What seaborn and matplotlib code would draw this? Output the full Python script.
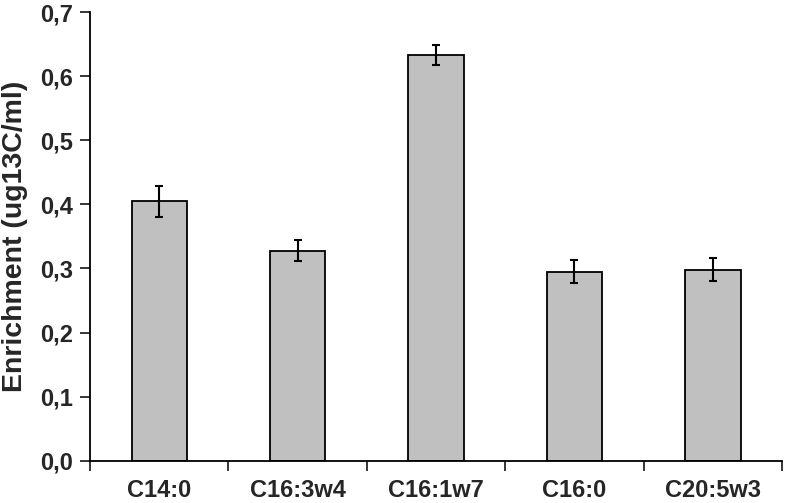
import matplotlib
matplotlib.use("Agg")
import matplotlib.pyplot as plt
import seaborn as sns
import pandas as pd
import numpy as np
from matplotlib.ticker import FuncFormatter, FixedLocator

categories = ["C14:0", "C16:3w4", "C16:1w7", "C16:0", "C20:5w3"]
values = [0.405, 0.328, 0.633, 0.295, 0.298]
errors = [0.024, 0.016, 0.015, 0.018, 0.018]
y_ticks = [0.0, 0.1, 0.2, 0.3, 0.4, 0.5, 0.6, 0.7]

sns.set_theme(style="white")
plt.rcParams['font.family'] = ['Liberation Sans', 'DejaVu Sans']
plt.rcParams['font.weight'] = 'bold'

df = pd.DataFrame({"cat": categories, "val": values})

fig = plt.figure(figsize=(7.86, 5.03), dpi=100)
ax = fig.add_axes([0.1145, 0.084, 0.995 - 0.1145, 0.976 - 0.084])

sns.barplot(data=df, x="cat", y="val", color="#C0C0C0", edgecolor="black",
            linewidth=1.3, width=0.4, saturation=1, ax=ax, errorbar=None)
ax.errorbar(np.arange(len(categories)), values, yerr=errors, fmt="none",
            ecolor="black", elinewidth=1.5, capsize=3, capthick=1.5)

ax.set_xlim(-0.5, len(categories) - 0.5)
ax.set_ylim(0, 0.7)
ax.set_yticks(y_ticks)
ax.yaxis.set_major_formatter(FuncFormatter(lambda v, p: f"{v:.1f}".replace(".", ",")))

# x tick marks at category boundaries, labels at centers
ax.xaxis.set_major_locator(FixedLocator(np.arange(-0.5, len(categories), 1.0)))
ax.xaxis.set_major_formatter(FuncFormatter(lambda v, p: ""))
ax.set_xticks(np.arange(len(categories)), labels=categories, minor=True)
ax.tick_params(axis="x", which="minor", length=0, labelsize=17, pad=13)
ax.tick_params(axis="x", which="major", length=7, width=1.3, direction="out", bottom=True)
ax.tick_params(axis="y", length=7, width=1.3, direction="out", left=True, labelsize=17, pad=5)
for lbl in ax.get_xticklabels(minor=True) + ax.get_yticklabels():
    lbl.set_fontweight("bold")

ax.set_xlabel("")
ax.set_ylabel("Enrichment (ug13C/ml)", fontsize=20.5, fontweight="bold", labelpad=9)

for s in ["top", "right"]:
    ax.spines[s].set_visible(False)
for s in ["left", "bottom"]:
    ax.spines[s].set_color("black")
    ax.spines[s].set_linewidth(1.3)

fig.savefig("out.png", dpi=100)
